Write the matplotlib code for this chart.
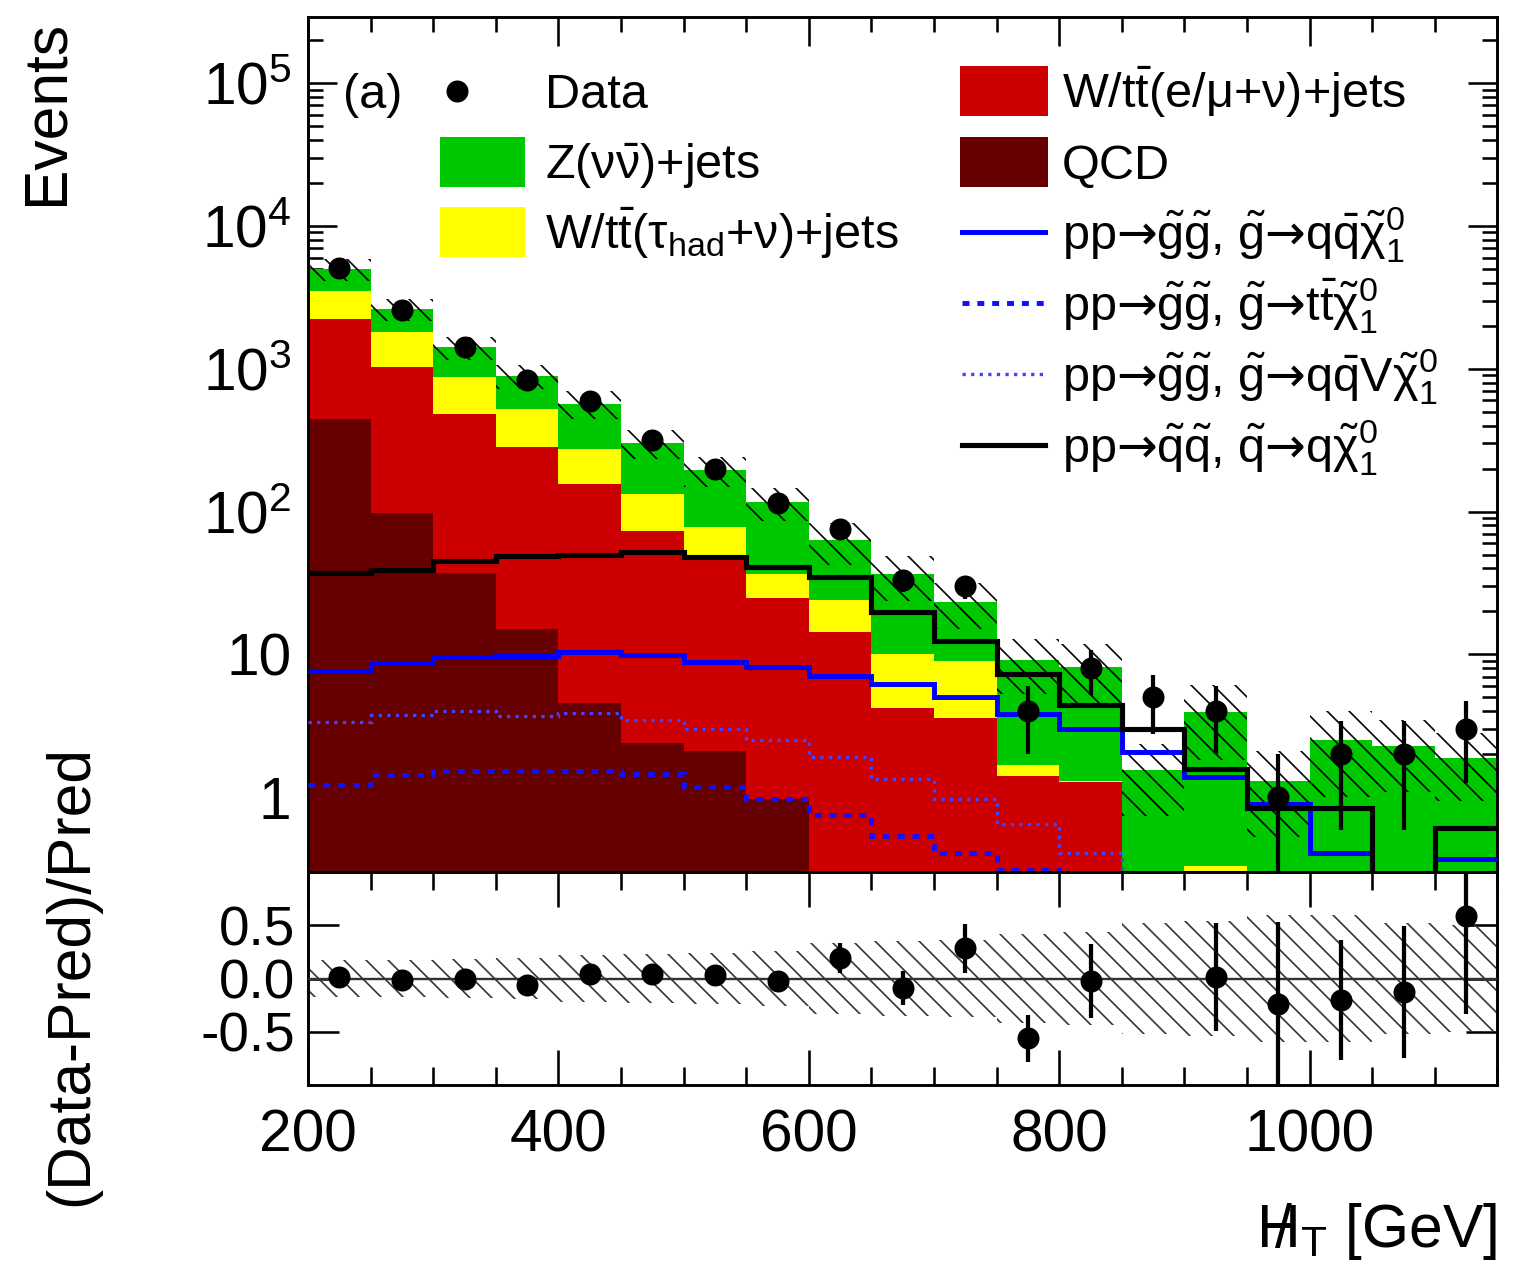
import numpy as np
import matplotlib
matplotlib.use('Agg')
import matplotlib.pyplot as plt
from matplotlib.patches import Rectangle
from matplotlib.lines import Line2D
from matplotlib.ticker import FixedLocator, MultipleLocator, FuncFormatter, NullFormatter, FormatStrFormatter

plt.rcParams['font.family'] = ['Liberation Sans', 'DejaVu Sans']
plt.rcParams['mathtext.fontset'] = 'custom'
plt.rcParams['mathtext.rm'] = 'Liberation Sans'
plt.rcParams['mathtext.it'] = 'Liberation Sans:italic'
plt.rcParams['mathtext.bf'] = 'Liberation Sans:bold'
plt.rcParams['mathtext.sf'] = 'DejaVu Sans'
plt.rcParams['mathtext.default'] = 'regular'
plt.rcParams['mathtext.fallback'] = 'stix'
plt.rcParams['hatch.linewidth'] = 0.9
plt.rcParams['hatch.color'] = 'black'

# ---------------- data ----------------
bin_edges = [200, 250, 300, 350, 400, 450, 500, 550, 600, 650, 700,
             750, 800, 850, 900, 950, 1000, 1050, 1100, 1150]
data_counts = [5052, 2575, 1409, 840, 596, 316, 200, 114, 75, 33, 30,
               4, 8, 5, 4, 1, 2, 2, 3]
qcd = [447, 97, 37, 15, 4.6, 2.4, 2.1, 0.98, 0, 0, 0,
       0, 0, 0, 0, 0, 0, 0, 0]
w_lep = [1780, 924, 445, 270, 151, 71, 45, 24, 14.3, 4.2, 3.6,
         1.4, 1.28, 0, 0, 0, 0, 0, 0]
w_tau = [1281, 774, 387, 238, 118, 59, 31, 11.5, 9.6, 5.9, 5.4,
         0.28, 0.02, 0, 0.33, 0, 0, 0, 0]
z_nunu = [1469, 819, 540, 371, 296, 172, 116, 80, 39, 26.2, 14.4,
          7.4, 6.86, 1.55, 3.61, 1.31, 2.50, 2.28, 1.89]
rel_unc = [0.17, 0.17, 0.18, 0.19, 0.22, 0.23, 0.24, 0.26, 0.33, 0.35, 0.36,
           0.42, 0.44, 0.52, 0.54, 0.60, 0.60, 0.52, 0.50]
sig_gg_qq = [7.6, 8.7, 9.6, 9.7, 10.4, 9.9, 8.9, 8.2, 7.1, 6.2, 5.0,
             3.85, 3.0, 2.07, 1.39, 0.90, 0.41, 0.25, 0.37]
sig_gg_tt = [1.21, 1.43, 1.53, 1.53, 1.53, 1.46, 1.18, 0.98, 0.75, 0.54, 0.41,
             0.31, 0.25, 0.1, 0.1, 0.1, 0.1, 0.1, 0.1]
sig_gg_qqv = [3.36, 3.74, 4.02, 3.68, 3.89, 3.46, 3.02, 2.53, 1.91, 1.35, 0.98,
              0.65, 0.41, 0.28, 0.1, 0.1, 0.1, 0.1, 0.1]
sig_sq_q = [37.3, 39.1, 44.9, 48.7, 49.3, 51.9, 47.9, 40.8, 34.7, 19.8, 12.5,
            7.3, 4.4, 3.0, 1.59, 0.84, 0.84, 0.25, 0.61]

y_major_ticks = [1, 10, 100, 1000, 10000, 100000]
ratio_ticks = [-0.5, 0.0, 0.5]

ARROW = r'$\mathsf{' + '\u2192' + '}$'
stack_labels = ['QCD', r'W/t$\bar{t}$(e/$\mu$+$\nu$)+jets',
                r'W/t$\bar{t}$($\tau_{had}$+$\nu$)+jets', r'Z($\nu\bar{\nu}$)+jets']
stack_colors = ['#660000', '#cc0000', '#ffff00', '#00c800']
sig_labels = ['pp' + ARROW + r'$\tilde{g}\tilde{g}$, $\tilde{g}$' + ARROW + r'q$\bar{q}\tilde{\chi}^{0}_{1}$',
              'pp' + ARROW + r'$\tilde{g}\tilde{g}$, $\tilde{g}$' + ARROW + r't$\bar{t}\tilde{\chi}^{0}_{1}$',
              'pp' + ARROW + r'$\tilde{g}\tilde{g}$, $\tilde{g}$' + ARROW + r'q$\bar{q}$V$\tilde{\chi}^{0}_{1}$',
              'pp' + ARROW + r'$\tilde{q}\tilde{q}$, $\tilde{q}$' + ARROW + r'q$\tilde{\chi}^{0}_{1}$']

# ---------------- figure ----------------
DPI = 132
fig = plt.figure(figsize=(1526 / DPI, 1268 / DPI), dpi=DPI)
W, H = 1526.0, 1268.0
x0, x1 = 308.0, 1497.4
ytop, ymid, ybot = 17.0, 872.0, 1085.0
ax = fig.add_axes([x0 / W, 1 - ymid / H, (x1 - x0) / W, (ymid - ytop) / H])
ax2 = fig.add_axes([x0 / W, 1 - ybot / H, (x1 - x0) / W, (ybot - ymid) / H], sharex=ax)

edges = np.array(bin_edges, float)
centers = 0.5 * (edges[:-1] + edges[1:])
data = np.array(data_counts, float)
floor = 1e-3

bottom = np.zeros(len(centers))
for vals, col in zip([qcd, w_lep, w_tau, z_nunu], stack_colors):
    top = bottom + np.array(vals, float)
    ax.stairs(np.maximum(top, floor), edges, baseline=np.maximum(bottom, floor),
              fill=True, facecolor=col, edgecolor='none', lw=0, zorder=2)
    bottom = top
total = bottom
unc = np.array(rel_unc)

ax.stairs(total * (1 + unc), edges, baseline=total * (1 - unc), fill=True,
          facecolor='none', edgecolor='black', hatch='\\\\', lw=0, zorder=3)

sig_styles = [dict(color='#0000ff', lw=2.7, ls='-'),
              dict(color='#1010ff', lw=2.7, ls=(0, (1.4, 1.6))),
              dict(color='#4444ff', lw=1.8, ls=(0, (1.0, 1.6))),
              dict(color='black', lw=2.8, ls='-')]
for vals, st in zip([sig_gg_qq, sig_gg_tt, sig_gg_qqv, sig_sq_q], sig_styles):
    ax.stairs(vals, edges, baseline=None, fill=False, zorder=4, **st)

ax.errorbar(centers, data, yerr=np.sqrt(data), fmt='o', color='black',
            ms=11, elinewidth=2.3, capsize=0, zorder=6)

ax.set_yscale('log')
ylo, yhi = 0.3, 2.9e5
ax.set_ylim(ylo, yhi)
ax.set_xlim(200, 1150)

def logfmt(v, pos):
    e = int(round(np.log10(v)))
    if e == 0:
        return '1'
    if e == 1:
        return '10'
    return r'$10^{%d}$' % e

minor_ticks = [k * 10.0 ** e for e in range(-1, 6) for k in range(2, 10)
               if ylo <= k * 10.0 ** e <= yhi]
ax.yaxis.set_major_locator(FixedLocator(y_major_ticks))
ax.yaxis.set_minor_locator(FixedLocator(minor_ticks))
ax.yaxis.set_major_formatter(FuncFormatter(logfmt))
ax.yaxis.set_minor_formatter(NullFormatter())
ax.xaxis.set_major_locator(MultipleLocator(200))
ax.xaxis.set_minor_locator(MultipleLocator(50))
ax.tick_params(axis='x', which='both', labelbottom=False)
ax.tick_params(which='both', direction='in', top=True, right=True, width=1.4, labelsize=32)
ax.tick_params(axis='y', which='major', length=16, pad=9)
ax.tick_params(axis='y', which='minor', length=8)
ax.tick_params(axis='x', which='major', length=16)
ax.tick_params(axis='x', which='minor', length=8)
for sp in ax.spines.values():
    sp.set_linewidth(1.6)

# ---------------- legend (manual, ROOT style) ----------------
def fx(px):
    return (px - x0) / (x1 - x0)

def fy(py):
    return (ymid - py) / (ymid - ytop)

rows = [91, 162, 232, 303, 374, 445]
leg_fs = 26.5
base_off = 17
ph = 50
# left column
ax.text(fx(343), fy(rows[0] + base_off), '(a)', fontsize=leg_fs, va='baseline', ha='left',
        transform=ax.transAxes, zorder=8)
ax.plot([fx(457)], [fy(rows[0])], 'o', color='black', ms=11, transform=ax.transAxes,
        clip_on=False, zorder=8)
ax.text(fx(545), fy(rows[0] + base_off), 'Data', fontsize=leg_fs, va='baseline', ha='left',
        transform=ax.transAxes, zorder=8)
for r, idx in zip(rows[1:3], [3, 2]):
    ax.add_patch(Rectangle((fx(440), fy(r + ph / 2)), fx(525) - fx(440), fy(r - ph / 2) - fy(r + ph / 2),
                           transform=ax.transAxes, facecolor=stack_colors[idx], edgecolor='none', zorder=8))
    ax.text(fx(545), fy(r + base_off), stack_labels[idx], fontsize=leg_fs, va='baseline', ha='left',
            transform=ax.transAxes, zorder=8)
# right column
for r, idx in zip(rows[0:2], [1, 0]):
    ax.add_patch(Rectangle((fx(960), fy(r + ph / 2)), fx(1048) - fx(960), fy(r - ph / 2) - fy(r + ph / 2),
                           transform=ax.transAxes, facecolor=stack_colors[idx], edgecolor='none', zorder=8))
    ax.text(fx(1062), fy(r + base_off), stack_labels[idx], fontsize=leg_fs, va='baseline', ha='left',
            transform=ax.transAxes, zorder=8)
for r, lab, st in zip(rows[2:6], sig_labels, sig_styles):
    ax.add_line(Line2D([fx(962), fx(1045)], [fy(r), fy(r)], transform=ax.transAxes, zorder=8, **st))
    ax.text(fx(1062), fy(r + base_off), lab, fontsize=leg_fs, va='baseline', ha='left',
            transform=ax.transAxes, zorder=8)

# ---------------- ratio panel ----------------
ratio = data / total - 1
rerr = np.sqrt(data) / total
show = ratio <= 1.0
ax2.stairs(unc, edges, baseline=-unc, fill=True, facecolor='none', edgecolor='#333333',
           hatch='\\\\', lw=0, zorder=2)
ax2.axhline(0, color='#333333', lw=1.3, zorder=3)
ax2.errorbar(centers[show], ratio[show], yerr=rerr[show], fmt='o', color='black',
             ms=11, elinewidth=2.3, capsize=0, zorder=6)
ax2.set_ylim(-1.0, 1.0)
ax2.yaxis.set_major_locator(FixedLocator(ratio_ticks))
ax2.yaxis.set_major_formatter(FormatStrFormatter('%.1f'))
ax2.yaxis.set_minor_locator(FixedLocator([]))
ax2.tick_params(which='both', direction='in', top=True, right=True, width=1.4, labelsize=32)
ax2.tick_params(axis='y', which='major', labelsize=30)
ax2.tick_params(axis='x', which='major', length=19, pad=13)
ax2.tick_params(axis='x', which='minor', length=10)
ax2.tick_params(axis='y', which='major', length=17, pad=7)
for sp in ax2.spines.values():
    sp.set_linewidth(1.6)

# ---------------- axis titles ----------------
fig.text(47 / W, 1 - 20 / H, 'Events', rotation=90, fontsize=33, ha='center', va='top')
fig.text(72 / W, 1 - 975 / H, '(Data-Pred)/Pred', rotation=90, fontsize=33, ha='center', va='center')
fig.text(1497 / W, 1 - 1262 / H, r'$H\!\!\!/\,{}_{T}$ [GeV]', fontsize=33, ha='right', va='bottom')

fig.savefig('out.png', dpi=DPI)
